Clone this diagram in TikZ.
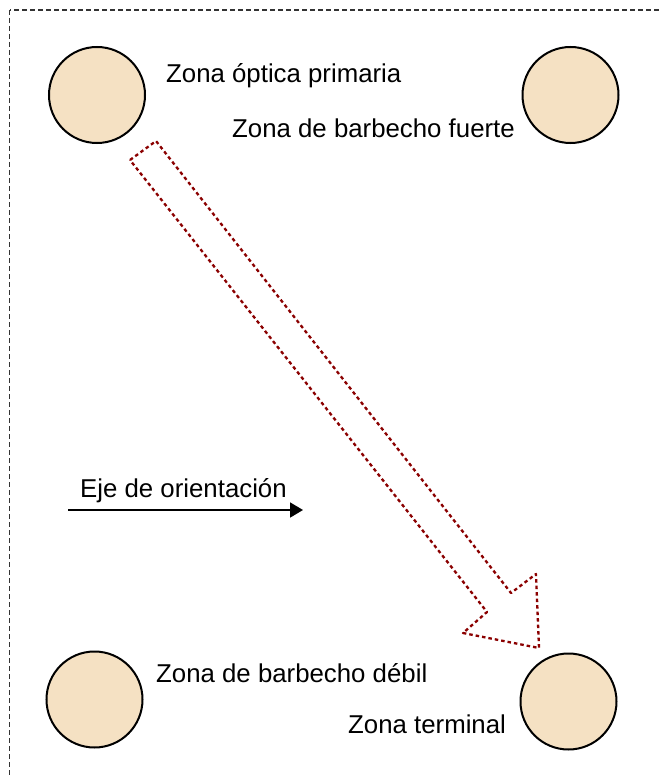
\documentclass[tikz,border=0pt]{standalone}
\usepackage{fontspec}
\setmainfont{Liberation Sans}
\usetikzlibrary{arrows.meta}
\definecolor{zonefill}{HTML}{F5E1C3}
\definecolor{arrowred}{HTML}{8B0000}
\begin{document}
\begin{tikzpicture}[x=1pt,y=-1pt,
  zone/.style={circle,draw=black,line width=2pt,fill=zonefill,minimum size=96pt,inner sep=0pt},
  lbl/.style={anchor=base west,inner sep=0pt,font=\fontsize{25.8}{30}\selectfont},
  frame/.style={draw=black!80,line width=1.7pt,dash pattern=on 5pt off 3pt},
  flow/.style={draw=arrowred,line width=2.3pt,dash pattern=on 3.5pt off 3pt},
  axis/.style={draw=black,line width=1.8pt,-{Triangle[length=13pt,width=15pt]}}]
\useasboundingbox (0,0) rectangle (658,778);
\fill[white] (0,0) rectangle (658,778);
\draw[frame] (9.5,10) rectangle (720,840);
% zones
\node[zone] (z1) at (97,95) {};
\node[zone] (z2) at (570.5,95) {};
\node[zone] (z3) at (94.5,699.5) {};
\node[zone] (z4) at (568.5,701.5) {};
% labels
\node[lbl] (t1) at (166,83) {Zona óptica primaria};
\node[lbl] (t2) at (232,138) {Zona de barbecho fuerte};
\node[lbl] (t3) at (156,682) {Zona de barbecho débil};
\node[lbl] (t4) at (348,733) {Zona terminal};
\node[lbl] (t5) at (80,497) {Eje de orientación};
% orientation axis
\coordinate (a0) at (68,510);
\coordinate (a1) at (303,510);
\draw[axis] (a0) -- (a1);
% hollow block arrow
\coordinate (p1) at (130,160);
\coordinate (p2) at (156,141);
\coordinate (p3) at (511,593);
\coordinate (p4) at (536,574);
\coordinate (p5) at (539,648);
\coordinate (p6) at (463,633);
\coordinate (p7) at (487,612);
\draw[flow,line join=round] (p1) -- (p2) -- (p3) -- (p4) -- (p5) -- (p6) -- (p7) -- cycle;
\end{tikzpicture}
\end{document}
